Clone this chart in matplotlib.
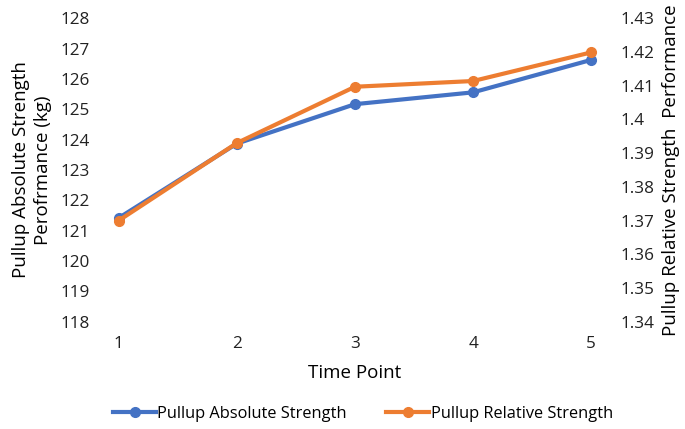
import matplotlib.pyplot as plt
from matplotlib.lines import Line2D

plt.rcParams['font.family'] = ['Open Sans', 'DejaVu Sans']

time_points = [1, 2, 3, 4, 5]
absolute_strength = [121.42, 123.87, 125.17, 125.56, 126.63]
relative_strength = [1.370, 1.393, 1.4097, 1.4114, 1.4199]

blue = '#4472C4'
orange = '#ED7D31'

fig = plt.figure(figsize=(6.85, 4.29), dpi=100)
ax = fig.add_axes([0.1474, 0.2501, 0.7416, 0.7072])
ax2 = ax.twinx()

ax.plot(time_points, absolute_strength, color=blue, lw=3, marker='o', ms=7, zorder=3)
ax2.plot(time_points, relative_strength, color=orange, lw=3, marker='o', ms=7, zorder=3)

ax.set_xlim(0.85, 5.15)
ax.set_ylim(118, 128)
ax2.set_ylim(1.34, 1.43)
ax.set_yticks(range(118, 129))
ax2.set_yticks([1.34 + 0.01 * i for i in range(10)])
ax2.set_yticklabels(['1.34', '1.35', '1.36', '1.37', '1.38', '1.39', '1.4',
                     '1.41', '1.42', '1.43'])
ax.set_xticks(time_points)

for a in (ax, ax2):
    for s in a.spines.values():
        s.set_visible(False)
    a.tick_params(length=0, labelsize=12.3, colors='#222222')
ax.tick_params(axis='y', pad=8)
ax2.tick_params(axis='y', pad=8)
ax.tick_params(axis='x', pad=10)

ax.set_xlabel('Time Point', fontsize=13.5, labelpad=9)
ax.set_ylabel('Pullup Absolute Strength\nPerofrmance (kg)', fontsize=13.5, labelpad=6,
              linespacing=1.3)
ax2.set_ylabel('Pullup Relative Strength  Performance', fontsize=13.5, labelpad=6)

handles = [Line2D([], [], color=blue, lw=3, marker='o', ms=7),
           Line2D([], [], color=orange, lw=3, marker='o', ms=7)]
fig.legend(handles, ['Pullup Absolute Strength', 'Pullup Relative Strength'],
           loc='center', bbox_to_anchor=(0.53, 0.035), ncol=2, frameon=False,
           fontsize=11.8, handlelength=2.6, handletextpad=0.1, columnspacing=2.4)

fig.savefig('out.png', dpi=100)
